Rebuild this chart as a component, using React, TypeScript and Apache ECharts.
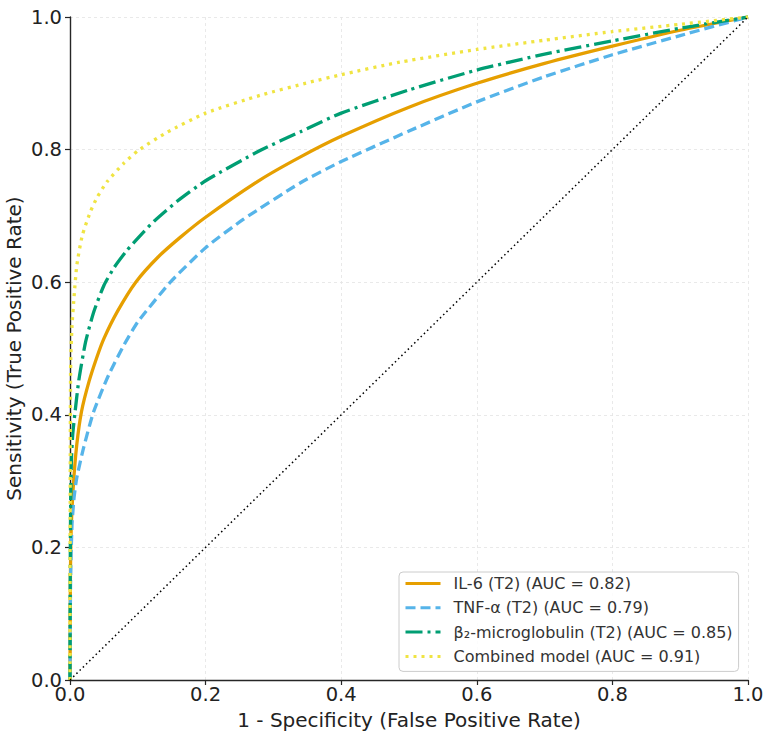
import React, { useEffect, useRef } from "react";
import * as echarts from "echarts";

const il6X = [0, 0.0005, 0.001, 0.002, 0.005, 0.01, 0.017, 0.028, 0.04, 0.05, 0.07, 0.097, 0.13, 0.163, 0.2, 0.28, 0.34, 0.4, 0.5, 0.6, 0.7, 0.8, 0.9, 1];
const il6Y = [0, 0.14, 0.19, 0.235, 0.295, 0.355, 0.405, 0.45, 0.488, 0.515, 0.556, 0.6, 0.638, 0.668, 0.698, 0.754, 0.789, 0.82, 0.864, 0.9, 0.93, 0.956, 0.98, 1];

const tnfX = [0, 0.0005, 0.001, 0.003, 0.006, 0.01, 0.02, 0.035, 0.057, 0.08, 0.1, 0.148, 0.2, 0.256, 0.34, 0.4, 0.5, 0.6, 0.7, 0.8, 0.9, 1];
const tnfY = [0, 0.1, 0.16, 0.235, 0.275, 0.305, 0.35, 0.405, 0.46, 0.506, 0.54, 0.6, 0.652, 0.695, 0.75, 0.782, 0.828, 0.872, 0.91, 0.943, 0.972, 1];

const b2mX = [0, 0.0005, 0.001, 0.002, 0.004, 0.007, 0.013, 0.023, 0.035, 0.05, 0.065, 0.084, 0.106, 0.124, 0.158, 0.2, 0.281, 0.34, 0.4, 0.5, 0.6, 0.7, 0.8, 0.9, 1];
const b2mY = [0, 0.2, 0.27, 0.33, 0.37, 0.4, 0.452, 0.51, 0.555, 0.595, 0.622, 0.648, 0.673, 0.692, 0.722, 0.753, 0.799, 0.827, 0.855, 0.89, 0.92, 0.944, 0.964, 0.983, 1];

const combX = [0, 0.0003, 0.001, 0.003, 0.006, 0.01, 0.018, 0.03, 0.04, 0.055, 0.079, 0.101, 0.143, 0.2, 0.281, 0.355, 0.4, 0.487, 0.6, 0.7, 0.8, 0.9, 1];
const combY = [0, 0.3, 0.478, 0.535, 0.578, 0.625, 0.67, 0.706, 0.728, 0.752, 0.779, 0.799, 0.826, 0.855, 0.882, 0.902, 0.913, 0.932, 0.951, 0.965, 0.978, 0.989, 1];

const diagX = [0, 1];
const diagY = [0, 1];

const seriesNames = [
  "IL-6 (T2) (AUC = 0.82)",
  "TNF-α (T2) (AUC = 0.79)",
  "β₂-microglobulin (T2) (AUC = 0.85)",
  "Combined model (AUC = 0.91)",
];

const tickValues = [0, 0.2, 0.4, 0.6, 0.8, 1.0];

const zip = (xs: number[], ys: number[]) => xs.map((x, i) => [x, ys[i]]);

const FONT = "DejaVu Sans";

export default function App() {
  const ref = useRef<HTMLDivElement>(null);
  useEffect(() => {
    if (!ref.current) return;
    const chart = echarts.init(ref.current, undefined, { renderer: "svg" });
    const axisCommon = {
      type: "value" as const,
      min: tickValues[0],
      max: tickValues[tickValues.length - 1],
      interval: 0.2,
      nameMoveOverlap: false,
      axisLine: { show: true, onZero: false, lineStyle: { color: "#262626", width: 1.4 } },
      axisTick: { show: true, inside: false, length: 5, lineStyle: { color: "#262626", width: 1.2 } },
      splitLine: { show: true, lineStyle: { color: "#e3e3e3", width: 0.8, type: [3, 3] as any } },
      nameTextStyle: { fontFamily: FONT, fontSize: 20, color: "#222" },
    };
    const lineCommon = { type: "line" as const, showSymbol: false, symbol: "none", smooth: 0.2 };
    chart.setOption({
      animation: false,
      backgroundColor: "#ffffff",
      grid: { left: 70, right: 19, top: 17, bottom: 57, outerBoundsMode: "none" } as any,
      xAxis: {
        ...axisCommon,
        name: "1 - Specificity (False Positive Rate)",
        nameLocation: "middle",
        nameGap: 30,
        axisLabel: {
          fontFamily: FONT,
          fontSize: 19.5,
          color: "#222",
          margin: 4,
          formatter: (v: number) => v.toFixed(1),
        },
      },
      yAxis: {
        ...axisCommon,
        name: "Sensitivity (True Positive Rate)",
        nameLocation: "middle",
        nameGap: 46,
        axisLabel: {
          fontFamily: FONT,
          fontSize: 19.5,
          color: "#222",
          margin: 8,
          formatter: (v: number) => v.toFixed(1),
        },
      },
      legend: {
        data: seriesNames,
        orient: "vertical",
        left: 399,
        top: 572,
        padding: [3.5, 6, 7, 5],
        itemGap: 8.3,
        itemWidth: 35,
        itemHeight: 14,
        itemStyle: { opacity: 0 },
        lineStyle: { width: 3 },
        backgroundColor: "rgba(255,255,255,0.85)",
        borderColor: "#cccccc",
        borderWidth: 1,
        borderRadius: 4,
        textStyle: { fontFamily: FONT, fontSize: 16, color: "#333", padding: [0, 0, 0, 8] },
      },
      series: [
        {
          ...lineCommon,
          name: seriesNames[0],
          data: zip(il6X, il6Y),
          color: "#E69F00",
          lineStyle: { color: "#E69F00", width: 3.3, type: "solid" },
        },
        {
          ...lineCommon,
          name: seriesNames[1],
          data: zip(tnfX, tnfY),
          color: "#56B4E9",
          lineStyle: { color: "#56B4E9", width: 3.3, type: [10, 5] },
        },
        {
          ...lineCommon,
          name: seriesNames[2],
          data: zip(b2mX, b2mY),
          color: "#009E73",
          lineStyle: { color: "#009E73", width: 3.3, type: [17, 5, 3, 5] },
        },
        {
          ...lineCommon,
          name: seriesNames[3],
          data: zip(combX, combY),
          color: "#F0E442",
          lineStyle: { color: "#F0E442", width: 3.3, type: [3, 5] },
        },
        {
          type: "line",
          name: "Chance",
          data: zip(diagX, diagY),
          showSymbol: false,
          symbol: "none",
          color: "#000000",
          lineStyle: { color: "#000000", width: 1.5, type: [1.5, 3] },
          z: 3,
        },
      ],
    });
    return () => chart.dispose();
  }, []);
  return (
    <div
      ref={ref}
      style={{ position: "fixed", left: 0, top: 0, width: 767, height: 737, background: "#fff" }}
    />
  );
}
